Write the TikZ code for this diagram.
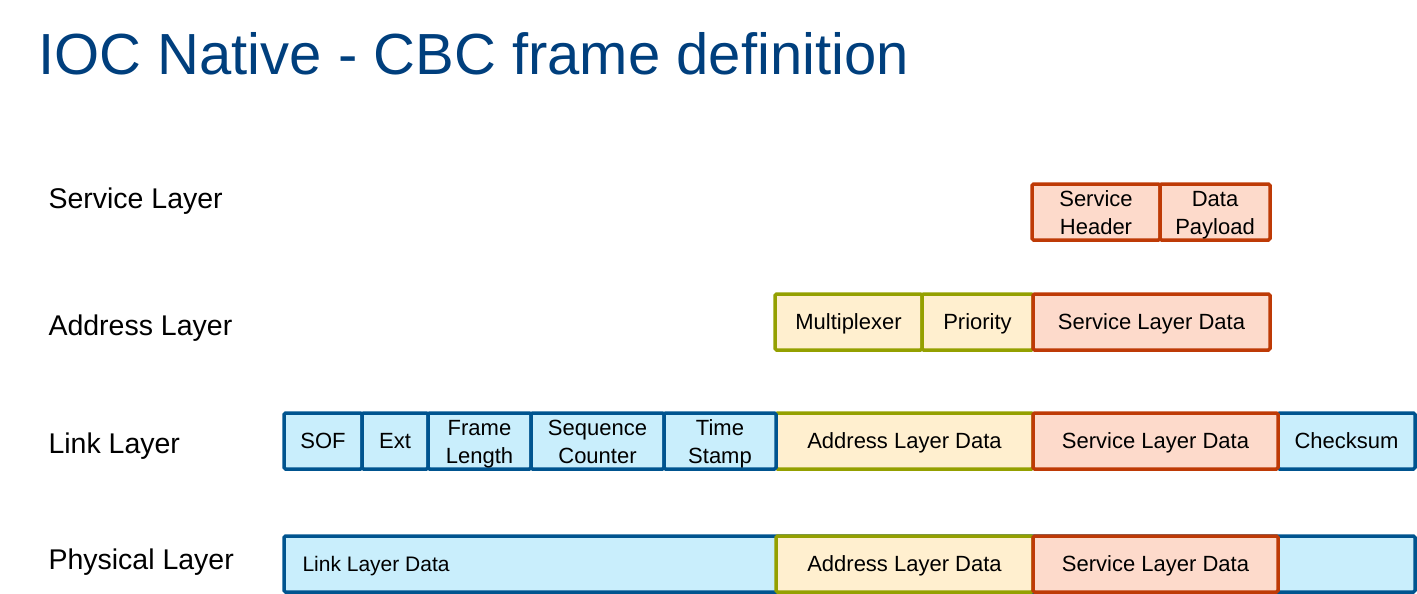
\documentclass[tikz,border=0pt]{standalone}
\usepackage{xcolor}
\usepackage{fontspec}
\setmainfont{Liberation Sans}
\usepackage{tikz}
\usetikzlibrary{positioning}

\definecolor{titleblue}{HTML}{003F7D}
\definecolor{linkline}{HTML}{00548F}
\definecolor{linkfill}{HTML}{C9EEFC}
\definecolor{addrline}{HTML}{94A000}
\definecolor{addrfill}{HTML}{FFEFCF}
\definecolor{servline}{HTML}{BE3A06}
\definecolor{servfill}{HTML}{FDDACB}

\tikzset{
  field/.style={draw, line width=3.5pt, rounded corners=1.5pt, inner sep=0pt, outer sep=0pt,
    minimum height=56pt, align=center, font=\fontsize{22}{28}\selectfont,
    text height=15.8pt, text depth=0pt},
  twoline/.style={text height=45pt, text depth=0pt},
  linkf/.style={field, draw=linkline, fill=linkfill},
  addrf/.style={field, draw=addrline, fill=addrfill},
  servf/.style={field, draw=servline, fill=servfill},
  layername/.style={anchor=base west, font=\fontsize{28.5}{32}\selectfont}
}

\begin{document}
\begin{tikzpicture}[x=1pt,y=-1pt]
		\useasboundingbox (0,0) rectangle (1417,594);
		\node[anchor=base west, text=titleblue, font=\fontsize{58}{64}\selectfont] (title) at (35,75) {IOC Native - CBC frame definition};
		
		\node[layername] (servname) at (45,208) {Service Layer};
		\node[layername] (addrname) at (45,335) {Address Layer};
		\node[layername] (linkname) at (45,453) {Link Layer};
		\node[layername] (physname) at (45,569) {Physical Layer};
		
		% service layer
		\node[servf, twoline, minimum width=128pt, anchor=west] (sh) at (1032,212) {Service\\Header};
		\node[servf, twoline, minimum width=110pt] (sp) [right = 0pt of sh] {Data\\Payload};
		
		% address layer
		\node[addrf, minimum width=147pt, anchor=west] (amux) at (775,322) {Multiplexer};
		\node[addrf, minimum width=111pt] (aprio) [right = 0pt of amux] {Priority};
		\node[servf, minimum width=237pt] (asld) [right = 0pt of aprio] {Service Layer Data};
		
		% link layer
		\node[addrf, minimum width=257pt, anchor=west] (lald) at (776,441) {Address Layer Data};
		\node[linkf, minimum width=78pt, anchor=west] (lsof) at (284,441) {SOF};
		\node[linkf, minimum width=66pt] (lext) [right = 0pt of lsof] {Ext};
		\node[linkf, twoline, minimum width=103pt] (lfl) [right = 0pt of lext] {Frame\\Length};
		\node[linkf, twoline, minimum width=133pt] (lsc) [right = 0pt of lfl] {Sequence\\Counter};
		\node[linkf, twoline, minimum width=112pt] (lts) [right = 0pt of lsc] {Time\\Stamp};
		\node[linkf, minimum width=137pt, anchor=east] (lcs) at (1415,441) {Checksum};
		\node[servf, minimum width=245pt] (lsld) [right = 0pt of lald] {Service Layer Data};
		
		% physical layer
		\node[linkf, minimum width=1131pt, anchor=west] (phys) at (284,564) {};
		\node[anchor=west, font=\fontsize{21}{25}\selectfont, text height=15pt, text depth=0pt] (plld) at ([xshift=15pt]phys.west) {Link Layer Data};
		\node[addrf, minimum width=257pt, anchor=west] (pald) at (776,564) {Address Layer Data};
		\node[servf, minimum width=245pt] (psld) [right = 0pt of pald] {Service Layer Data};
	\end{tikzpicture}
\end{document}
